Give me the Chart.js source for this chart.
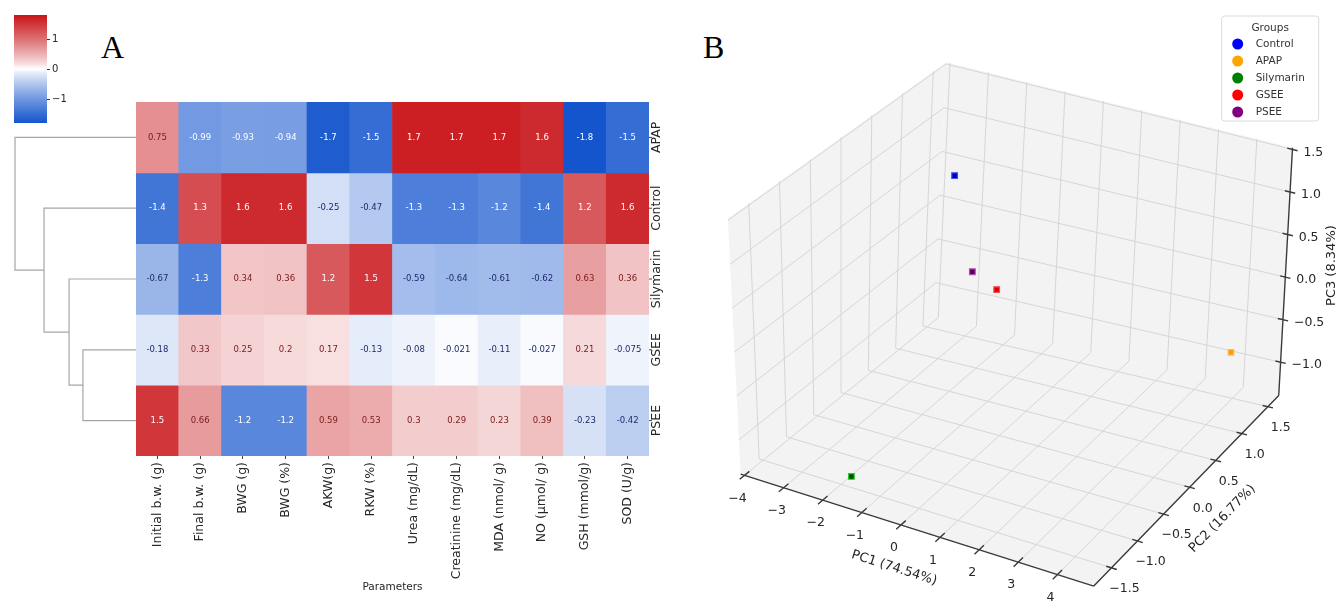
<!DOCTYPE html>
<html>
<head>
<meta charset="utf-8">
<script src="https://cdn.jsdelivr.net/npm/chart.js"></script>
<style>
  html, body { margin: 0; padding: 0; background: #fff; }
  body { width: 1341px; height: 609px; position: relative; overflow: hidden; }
  .box { position: absolute; }
  .panel { position: absolute; font-family: "Liberation Serif", serif; font-size: 32px; line-height: 1; color: #000; }
</style>
</head>
<body>
<div class="panel" style="left:101px; top:31px;">A</div>
<div class="panel" style="left:703px; top:31px;">B</div>
<div class="box" style="left:0; top:0; width:80px; height:140px;"><canvas id="cbar"></canvas></div>
<div class="box" style="left:0; top:102px; width:136px; height:354px;"><canvas id="dendro"></canvas></div>
<div class="box" style="left:0; top:0; width:700px; height:609px;"><canvas id="heat"></canvas></div>
<div class="box" style="left:700px; top:0; width:641px; height:609px;"><canvas id="pca"></canvas></div>
<script>
// ---------- data ----------
var params = ['Initial b.w. (g)', 'Final b.w. (g)', 'BWG (g)', 'BWG (%)', 'AKW(g)', 'RKW (%)',
  'Urea (mg/dL)', 'Creatinine (mg/dL)', 'MDA (nmol/ g)', 'NO (μmol/ g)', 'GSH (mmol/g)', 'SOD (U/g)'];
var rowNames = ['APAP', 'Control', 'Silymarin', 'GSEE', 'PSEE'];
var apap      = [0.75, -0.99, -0.93, -0.94, -1.7, -1.5, 1.7, 1.7, 1.7, 1.6, -1.8, -1.5];
var control   = [-1.4, 1.3, 1.6, 1.6, -0.25, -0.47, -1.3, -1.3, -1.2, -1.4, 1.2, 1.6];
var silymarin = [-0.67, -1.3, 0.34, 0.36, 1.2, 1.5, -0.59, -0.64, -0.61, -0.62, 0.63, 0.36];
var gsee      = [-0.18, 0.33, 0.25, 0.2, 0.17, -0.13, -0.08, -0.021, -0.11, -0.027, 0.21, -0.075];
var psee      = [1.5, 0.66, -1.2, -1.2, 0.59, 0.53, 0.3, 0.29, 0.23, 0.39, -0.23, -0.42];
var heatRows = [apap, control, silymarin, gsee, psee];

var colorTicks = [-1, 0, 1];
var colorMin = -1.8, colorMax = 1.8;

// row dendrogram, scipy style: node 5 = (3,4), 6 = (2,5), 7 = (1,6), 8 = (0,7)
var linkA = [3, 2, 1, 0];
var linkB = [4, 5, 6, 7];
var linkHeight = [2.63, 3.32, 4.56, 6.0];

// PCA scores
var groups = ['Control', 'APAP', 'Silymarin', 'GSEE', 'PSEE'];
var groupColors = ['#0000ff', '#ffa500', '#008000', '#ff0000', '#800080'];
var groupFill = ['#0000b0', '#ff9a00', '#004d00', '#d80000', '#5a005a'];
var groupEdge = ['#3b4dff', '#ffc060', '#22d022', '#ff4a4a', '#b24ab2'];
var pc1 = [-3.0, 4.6, -1.7, 0.0, 0.0];
var pc2 = [1.2, 0.97, -1.52, -0.08, -0.51];
var pc3 = [0.6, -0.47, -1.25, 0.31, 0.74];
var pc1Ticks = [-4, -3, -2, -1, 0, 1, 2, 3, 4];
var pc2Ticks = [-1.5, -1, -0.5, 0, 0.5, 1, 1.5];
var pc3Ticks = [-1, -0.5, 0, 0.5, 1, 1.5];
var pc1Lim = [-4.1, 4.93];
var pc2Lim = [-1.84, 1.71];
var pc3Lim = [-1.39, 1.52];

Chart.defaults.font.family = "'DejaVu Sans', sans-serif";
Chart.defaults.color = '#262626';

function minus(s) { return String(s).replace('-', '\u2212'); }

// red / blue diverging map centred on 0
function cmap(v) {
  var t = Math.max(-1, Math.min(1, v / colorMax));
  var a = Math.pow(Math.abs(t), 0.85);
  var r, g, b;
  if (t >= 0) { r = 255 - 55 * a; g = 255 - 235 * a; b = 255 - 230 * a; }
  else { r = 255 - 235 * a; g = 255 - 170 * a; b = 255 - 50 * a; }
  return 'rgb(' + Math.round(r) + ',' + Math.round(g) + ',' + Math.round(b) + ')';
}

// ---------- colour bar ----------
function barGradient(chart) {
  var area = chart.chartArea;
  if (!area) return 'rgba(0,0,0,0)';
  var g = chart.ctx.createLinearGradient(0, area.bottom, 0, area.top);
  for (var k = 0; k <= 24; k++) {
    g.addColorStop(k / 24, cmap(colorMin + (colorMax - colorMin) * k / 24));
  }
  return g;
}

new Chart(document.getElementById('cbar'), {
  type: 'bar',
  data: {
    labels: [''],
    datasets: [{
      data: [[colorMin, colorMax]],
      backgroundColor: function (c) { return barGradient(c.chart); },
      borderWidth: 0, barPercentage: 1, categoryPercentage: 1
    }]
  },
  options: {
    responsive: true, maintainAspectRatio: false, animation: false,
    layout: { padding: { left: 14, top: 15, bottom: 17, right: 0 } },
    plugins: { legend: { display: false }, tooltip: { enabled: false } },
    scales: {
      x: { display: false },
      y: {
        min: colorMin, max: colorMax, position: 'right',
        grid: { drawOnChartArea: false, tickLength: 3, color: '#333' },
        border: { display: false },
        afterBuildTicks: function (s) { s.ticks = colorTicks.map(function (v) { return { value: v }; }); },
        ticks: { padding: 2, font: { size: 10 }, callback: function (v) { return minus(v); } },
        afterFit: function (s) { s.width = 33; }
      }
    }
  }
});

// ---------- dendrogram ----------
var nodeY = rowNames.map(function (n, i) { return i + 0.5; });
var nodeH = rowNames.map(function () { return 0; });
var dendroSets = linkA.map(function (a, k) {
  var b = linkB[k], h = linkHeight[k];
  var seg = [{ x: nodeH[a], y: nodeY[a] }, { x: h, y: nodeY[a] }, { x: h, y: nodeY[b] }, { x: nodeH[b], y: nodeY[b] }];
  nodeY.push((nodeY[a] + nodeY[b]) / 2);
  nodeH.push(h);
  return { data: seg, showLine: true, borderColor: '#a6a6a6', borderWidth: 1.2, pointRadius: 0, clip: false };
});

new Chart(document.getElementById('dendro'), {
  type: 'scatter',
  data: { datasets: dendroSets },
  options: {
    responsive: true, maintainAspectRatio: false, animation: false,
    layout: { padding: { left: 15, right: 0, top: 0, bottom: 0 } },
    plugins: { legend: { display: false }, tooltip: { enabled: false } },
    scales: {
      x: { type: 'linear', min: 0, max: Math.max.apply(null, linkHeight), reverse: true, display: false },
      y: { type: 'linear', min: 0, max: rowNames.length, reverse: true, display: false }
    }
  }
});

// ---------- heatmap ----------
function fmt(v) { return String(Number(v.toPrecision(2))); }

var cellText = {
  id: 'cellText',
  afterDatasetsDraw: function (chart) {
    var ctx = chart.ctx;
    ctx.save();
    ctx.font = "8.5px 'DejaVu Sans'";
    ctx.textAlign = 'center';
    ctx.textBaseline = 'middle';
    heatRows.forEach(function (vals, i) {
      chart.getDatasetMeta(i).data.forEach(function (bar, j) {
        var v = vals[j];
        ctx.fillStyle = Math.abs(v) >= 0.9 ? '#ffffff' : (v >= 0 ? '#7a1a1a' : '#1f2a6e');
        ctx.fillText(fmt(v), bar.x, (bar.y + bar.base) / 2);
      });
    });
    ctx.restore();
  }
};

var rowLabels = {
  id: 'rowLabels',
  afterDraw: function (chart) {
    var ctx = chart.ctx, area = chart.chartArea, y = chart.scales.y;
    ctx.save();
    ctx.strokeStyle = '#444';
    ctx.lineWidth = 1;
    ctx.fillStyle = '#262626';
    ctx.font = "12.5px 'DejaVu Sans'";
    ctx.textAlign = 'center';
    ctx.textBaseline = 'middle';
    rowNames.forEach(function (name, i) {
      var py = y.getPixelForValue(i + 0.5);
      ctx.beginPath();
      ctx.moveTo(area.right, py);
      ctx.lineTo(area.right + 3, py);
      ctx.stroke();
      ctx.save();
      ctx.translate(area.right + 8, py);
      ctx.rotate(-Math.PI / 2);
      ctx.fillText(name, 0, 0);
      ctx.restore();
    });
    ctx.restore();
  }
};

new Chart(document.getElementById('heat'), {
  type: 'bar',
  data: {
    labels: params,
    datasets: heatRows.map(function (vals, i) {
      return {
        label: rowNames[i],
        data: vals.map(function () { return [i, i + 1]; }),
        backgroundColor: vals.map(cmap),
        borderWidth: 0,
        grouped: false,
        barPercentage: 1,
        categoryPercentage: 1
      };
    })
  },
  options: {
    responsive: true, maintainAspectRatio: false, animation: false,
    layout: { padding: { left: 136, right: 51, top: 102, bottom: 0 } },
    plugins: { legend: { display: false }, tooltip: { enabled: false } },
    scales: {
      x: {
        grid: { display: true, drawOnChartArea: false, offset: false, tickLength: 3, color: '#444' },
        border: { display: false },
        ticks: { autoSkip: false, minRotation: 90, maxRotation: 90, padding: 3, font: { size: 12.5 } },
        title: { display: true, text: 'Parameters', font: { size: 10.5 }, padding: { top: 0, bottom: 15 } },
        afterFit: function (s) { s.height = 153; }
      },
      y: { type: 'linear', min: 0, max: rowNames.length, reverse: true, display: false }
    }
  },
  plugins: [cellText, rowLabels]
});

// ---------- 3D PCA ----------
// screen frame of panel B and where the 8 corners of the axes box land on it
var frameX = [700, 1341], frameY = [0, 609];
var boxCorners = {
  c000: [736, 477], c100: [1095, 591], c110: [1283, 397], c010: [933, 317],
  c001: [723, 217], c101: [1095, 318], c111: [1297, 145], c011: [945, 58]
};

function project(x, y, z) {
  var u = (x - pc1Lim[0]) / (pc1Lim[1] - pc1Lim[0]);
  var v = (y - pc2Lim[0]) / (pc2Lim[1] - pc2Lim[0]);
  var w = (z - pc3Lim[0]) / (pc3Lim[1] - pc3Lim[0]);
  var c = boxCorners, out = [0, 0];
  var wts = [
    [c.c000, (1 - u) * (1 - v) * (1 - w)], [c.c100, u * (1 - v) * (1 - w)],
    [c.c110, u * v * (1 - w)], [c.c010, (1 - u) * v * (1 - w)],
    [c.c001, (1 - u) * (1 - v) * w], [c.c101, u * (1 - v) * w],
    [c.c111, u * v * w], [c.c011, (1 - u) * v * w]
  ];
  wts.forEach(function (p) { out[0] += p[0][0] * p[1]; out[1] += p[0][1] * p[1]; });
  return { x: out[0], y: out[1] };
}

var X0 = pc1Lim[0], X1 = pc1Lim[1], Y0 = pc2Lim[0], Y1 = pc2Lim[1], Z0 = pc3Lim[0], Z1 = pc3Lim[1];
var GAP = { x: null, y: null };

function poly(pts) { return pts.map(function (p) { return project(p[0], p[1], p[2]); }); }
function segs(list) {
  var out = [];
  list.forEach(function (s) { out.push(project(s[0], s[1], s[2]), project(s[3], s[4], s[5]), GAP); });
  return out;
}

var paneStyle = { showLine: true, fill: 'shape', backgroundColor: '#f3f3f3', borderWidth: 0, pointRadius: 0, order: 3 };
var panes = [
  [[X0, Y0, Z0], [X1, Y0, Z0], [X1, Y1, Z0], [X0, Y1, Z0], [X0, Y0, Z0]],
  [[X0, Y0, Z0], [X0, Y1, Z0], [X0, Y1, Z1], [X0, Y0, Z1], [X0, Y0, Z0]],
  [[X0, Y1, Z0], [X1, Y1, Z0], [X1, Y1, Z1], [X0, Y1, Z1], [X0, Y1, Z0]]
].map(function (p) { return Object.assign({ data: poly(p) }, paneStyle); });

var gridList = [];
pc1Ticks.forEach(function (t) {
  gridList.push([t, Y0, Z0, t, Y1, Z0]);   // floor
  gridList.push([t, Y1, Z0, t, Y1, Z1]);   // back wall
});
pc2Ticks.forEach(function (t) {
  gridList.push([X0, t, Z0, X1, t, Z0]);   // floor
  gridList.push([X0, t, Z0, X0, t, Z1]);   // left wall
});
pc3Ticks.forEach(function (t) {
  gridList.push([X0, Y0, t, X0, Y1, t]);   // left wall
  gridList.push([X0, Y1, t, X1, Y1, t]);   // back wall
});
var gridSet = { data: segs(gridList), showLine: true, borderColor: '#d6d6d6', borderWidth: 1, pointRadius: 0, order: 2 };

var dv = 0.025 * (Y1 - Y0), du = 0.015 * (X1 - X0);
var axisList = [[X0, Y0, Z0, X1, Y0, Z0], [X1, Y0, Z0, X1, Y1, Z0], [X1, Y1, Z0, X1, Y1, Z1]];
pc1Ticks.forEach(function (t) { axisList.push([t, Y0 - dv, Z0, t, Y0 + dv, Z0]); });
pc2Ticks.forEach(function (t) { axisList.push([X1 - du, t, Z0, X1 + du, t, Z0]); });
pc3Ticks.forEach(function (t) { axisList.push([X1 - du, Y1, t, X1 + du, Y1, t]); });
var axisSet = { data: segs(axisList), showLine: true, borderColor: '#3a3a3a', borderWidth: 1.4, pointRadius: 0, order: 1 };

var pointSets = groups.map(function (g, i) {
  return {
    label: g,
    data: [project(pc1[i], pc2[i], pc3[i])],
    pointStyle: 'rect', pointRadius: 4, borderWidth: 1.2,
    backgroundColor: groupFill[i], borderColor: groupEdge[i], order: 0
  };
});

function drawRot(ctx, text, x, y, ang) {
  ctx.save();
  ctx.translate(x, y);
  ctx.rotate(ang);
  ctx.fillText(text, 0, 0);
  ctx.restore();
}

var pcaText = {
  id: 'pcaText',
  afterDraw: function (chart) {
    var ctx = chart.ctx, sx = chart.scales.x, sy = chart.scales.y;
    function px(p) { return [sx.getPixelForValue(p.x), sy.getPixelForValue(p.y)]; }
    ctx.save();
    ctx.fillStyle = '#262626';
    ctx.font = "12.5px 'DejaVu Sans'";
    ctx.textAlign = 'center';
    ctx.textBaseline = 'middle';
    pc1Ticks.forEach(function (t) {
      var p = px(project(t, Y0, Z0));
      ctx.fillText(minus(t.toFixed(0)), p[0] - 7, p[1] + 23);
    });
    pc2Ticks.forEach(function (t) {
      var p = px(project(X1, t, Z0));
      ctx.fillText(minus(t.toFixed(1)), p[0] + 13, p[1] + 21);
    });
    ctx.textAlign = 'left';
    pc3Ticks.forEach(function (t) {
      var p = px(project(X1, Y1, t));
      ctx.fillText(minus(t.toFixed(1)), p[0] + 11, p[1] + 3);
    });

    // axis titles
    ctx.textAlign = 'center';
    ctx.font = "13px 'DejaVu Sans'";
    var a0 = px(project(X0, Y0, Z0)), a1 = px(project(X1, Y0, Z0));
    var m1 = px(project((X0 + X1) / 2, Y0, Z0));
    drawRot(ctx, 'PC1 (74.54%)', m1[0] - 23, m1[1] + 38, Math.atan2(a1[1] - a0[1], a1[0] - a0[0]));
    var b1 = px(project(X1, Y1, Z0));
    var m2 = px(project(X1, (Y0 + Y1) / 2, Z0));
    drawRot(ctx, 'PC2 (16.77%)', m2[0] + 36, m2[1] + 28, Math.atan2(b1[1] - a1[1], b1[0] - a1[0]));
    var m3 = px(project(X1, Y1, (Z0 + Z1) / 2));
    drawRot(ctx, 'PC3 (8.34%)', m3[0] + 46, m3[1] - 6, -Math.PI / 2);

    // legend
    var lx = sx.getPixelForValue(1225), ly = sy.getPixelForValue(11), lw = 97, lh = 105, r = 3;
    ctx.beginPath();
    ctx.moveTo(lx + r, ly);
    ctx.arcTo(lx + lw, ly, lx + lw, ly + lh, r);
    ctx.arcTo(lx + lw, ly + lh, lx, ly + lh, r);
    ctx.arcTo(lx, ly + lh, lx, ly, r);
    ctx.arcTo(lx, ly, lx + lw, ly, r);
    ctx.closePath();
    ctx.fillStyle = 'rgba(255,255,255,0.85)';
    ctx.fill();
    ctx.strokeStyle = '#dadada';
    ctx.lineWidth = 1;
    ctx.stroke();
    ctx.fillStyle = '#333';
    ctx.font = "10.5px 'DejaVu Sans'";
    ctx.fillText('Groups', lx + lw / 2, ly + 12);
    ctx.textAlign = 'left';
    groups.forEach(function (g, i) {
      var cy = ly + 28 + i * 17;
      ctx.beginPath();
      ctx.arc(lx + 16, cy, 5.5, 0, Math.PI * 2);
      ctx.fillStyle = groupColors[i];
      ctx.fill();
      ctx.fillStyle = '#333';
      ctx.fillText(g, lx + 34, cy);
    });
    ctx.restore();
  }
};

new Chart(document.getElementById('pca'), {
  type: 'scatter',
  data: { datasets: panes.concat([gridSet, axisSet], pointSets) },
  options: {
    responsive: true, maintainAspectRatio: false, animation: false,
    layout: { padding: 0 },
    plugins: { legend: { display: false }, tooltip: { enabled: false } },
    scales: {
      x: { type: 'linear', min: frameX[0], max: frameX[1], display: false },
      y: { type: 'linear', min: frameY[0], max: frameY[1], reverse: true, display: false }
    }
  },
  plugins: [pcaText]
});
</script>
</body>
</html>
